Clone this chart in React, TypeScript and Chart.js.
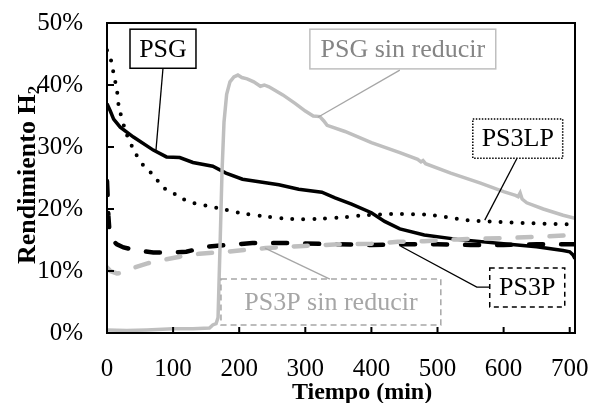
import React, { useEffect, useRef } from "react";
import { Chart, registerables } from "chart.js";
Chart.register(...registerables);

// ---- data ----
const psgT = [0, 5, 10, 20, 40, 70, 90, 110, 130, 160, 180, 205, 230, 260, 290, 325, 345, 370, 400, 420, 443, 480, 530, 600, 650, 690, 700, 705, 708];
const psgV = [37, 35.8, 34.5, 33.2, 31.6, 29.5, 28.4, 28.3, 27.5, 26.9, 25.8, 24.8, 24.4, 23.9, 23.2, 22.7, 21.8, 20.8, 19.4, 18.0, 16.8, 15.8, 15.1, 14.4, 13.9, 13.3, 13.1, 12.6, 12.0];

const ps3lpT = [0, 6, 9, 12, 15, 18, 29, 42, 56, 70, 85, 100, 115, 130, 166, 200, 240, 280, 320, 360, 393, 443, 493, 544, 594, 644, 708];
const ps3lpV = [45.6, 44, 42.4, 40.8, 39.2, 36.5, 32.3, 29.2, 26.9, 25.5, 23.5, 22.6, 21.6, 21.0, 20.2, 19.4, 18.8, 18.4, 18.4, 18.7, 19.0, 19.2, 19.0, 18.2, 17.9, 17.7, 17.5];

const ps3pT = [0, 1, 2, 4, 8, 15, 25, 45, 70, 100, 120, 150, 180, 220, 280, 350, 400, 450, 500, 550, 600, 650, 708];
const ps3pV = [24.5, 22, 19, 16, 15, 14.3, 13.8, 13.3, 13.0, 13.0, 13.1, 13.9, 14.2, 14.5, 14.5, 14.3, 14.2, 14.3, 14.3, 14.2, 14.2, 14.3, 14.3];

const psgSrT = [0, 30, 60, 100, 130, 155, 160, 165, 168, 171, 174, 177, 181, 186, 192, 198, 204, 212, 222, 232, 238, 245, 266, 285, 300, 312, 322, 328, 333, 360, 400, 443, 470, 475, 478, 482, 520, 564, 600, 618, 622, 625, 628, 635, 660, 690, 708];
const psgSrV = [0.5, 0.4, 0.5, 0.7, 0.7, 0.8, 1.3, 1.5, 2.5, 14, 26, 34, 38.5, 40.5, 41.3, 41.6, 41.2, 41.0, 40.5, 39.8, 40.0, 39.7, 38.4, 37.0, 35.8, 35.0, 34.9, 34.2, 33.5, 32.5, 30.7, 29.1, 28.0, 27.6, 27.8, 27.3, 25.8, 24.2, 22.8, 22.2, 22.0, 22.6, 21.6, 21.0, 20.0, 19.0, 18.5];

const ps3pSrT = [0, 5, 15, 28, 40, 60, 85, 110, 140, 170, 200, 240, 290, 350, 400, 440, 480, 530, 600, 650, 708];
const ps3pSrV = [10.6, 10.0, 9.6, 9.8, 10.5, 11.2, 11.8, 12.3, 12.8, 13.0, 13.3, 13.7, 14.0, 14.3, 14.4, 14.7, 14.8, 15.1, 15.3, 15.5, 15.8];

const xTicks = [0, 100, 200, 300, 400, 500, 600, 700];
const yTicks = [0, 10, 20, 30, 40, 50];
const xTitle = "Tiempo (min)";
const yTitle = "Rendimiento H";
const yTitleSub = "2";

// annotation labels in data coordinates: box [t1, t2, vTop, vBottom], leader polyline
const labels = [
  { text: "PSG", box: [34.8, 134.6, 49.0, 42.7], leader: [[84.7, 42.7], [74.1, 29.5]], textColor: "#000000", border: "#000000", lineColor: "#000000", dash: [] as number[] },
  { text: "PSG sin reducir", box: [306.9, 588.1, 49.0, 42.6], leader: [[443, 42.4], [319, 34.8]], textColor: "#858585", border: "#BFBFBF", lineColor: "#A6A6A6", dash: [] as number[] },
  { text: "PS3LP", box: [553.4, 689.4, 34.5, 28.2], leader: [[619.9, 28.1], [571.5, 18.2]], textColor: "#000000", border: "#000000", lineColor: "#000000", dash: [1.5, 1.5] },
  { text: "PS3P", box: [579, 692.5, 10.5, 4.2], leader: [[579, 7.4], [559.4, 7.4], [444.5, 14.0]], textColor: "#000000", border: "#000000", lineColor: "#000000", dash: [5, 4] },
  { text: "PS3P sin reducir", box: [172.4, 505, 8.7, 1.3], leader: [[337.2, 8.7], [238.9, 13.7]], textColor: "#A6A6A6", border: "#A6A6A6", lineColor: "#A6A6A6", dash: [6, 4] },
];

const FONT = '"Liberation Serif", "Times New Roman", serif';

function pts(t: number[], v: number[]) {
  return t.map((x, i) => ({ x, y: v[i] }));
}

const overlay = {
  id: "overlay",
  afterDatasetsDraw(chart: any) {
    const { ctx, chartArea: a, scales } = chart;
    const xs = scales.x, ys = scales.y;
    ctx.save();
    // annotations
    labels.forEach((l) => {
      const x1 = xs.getPixelForValue(l.box[0]);
      const x2 = xs.getPixelForValue(l.box[1]);
      const y1 = ys.getPixelForValue(l.box[2]);
      const y2 = ys.getPixelForValue(l.box[3]);
      ctx.fillStyle = "#ffffff";
      ctx.fillRect(x1, y1, x2 - x1, y2 - y1);
      ctx.setLineDash(l.dash);
      ctx.strokeStyle = l.border;
      ctx.lineWidth = 1.5;
      ctx.strokeRect(x1, y1, x2 - x1, y2 - y1);
      ctx.setLineDash([]);
      ctx.strokeStyle = l.lineColor;
      ctx.lineWidth = 1.3;
      ctx.beginPath();
      l.leader.forEach((p, i) => {
        const px = xs.getPixelForValue(p[0]);
        const py = ys.getPixelForValue(p[1]);
        if (i === 0) ctx.moveTo(px, py);
        else ctx.lineTo(px, py);
      });
      ctx.stroke();
      ctx.fillStyle = l.textColor;
      ctx.font = `26px ${FONT}`;
      ctx.textAlign = "center";
      ctx.textBaseline = "middle";
      ctx.fillText(l.text, (x1 + x2) / 2, (y1 + y2) / 2 + 1);
    });
    // frame
    ctx.strokeStyle = "#000";
    ctx.lineWidth = 2;
    ctx.strokeRect(a.left, a.top, a.right - a.left, a.bottom - a.top);
    ctx.beginPath();
    yTicks.forEach((v) => {
      const py = ys.getPixelForValue(v);
      ctx.moveTo(a.left, py);
      ctx.lineTo(a.left + 7, py);
    });
    xTicks.forEach((v) => {
      const px = xs.getPixelForValue(v);
      ctx.moveTo(px, a.bottom);
      ctx.lineTo(px, a.bottom - 6);
    });
    ctx.stroke();
    // x title
    ctx.fillStyle = "#000";
    ctx.font = `bold 24px ${FONT}`;
    ctx.textAlign = "center";
    ctx.textBaseline = "alphabetic";
    ctx.fillText(xTitle, a.left + (a.right - a.left) * 0.545, a.bottom + 66);
    // y title
    ctx.save();
    const cy = a.top + (a.bottom - a.top) * 0.49;
    ctx.translate(a.left - 72, cy);
    ctx.rotate(-Math.PI / 2);
    ctx.font = `bold 26px ${FONT}`;
    const w1 = ctx.measureText(yTitle).width;
    ctx.font = `bold 17px ${FONT}`;
    const w2 = ctx.measureText(yTitleSub).width;
    const start = -(w1 + w2) / 2;
    ctx.textAlign = "left";
    ctx.font = `bold 26px ${FONT}`;
    ctx.fillText(yTitle, start, 0);
    ctx.font = `bold 17px ${FONT}`;
    ctx.fillText(yTitleSub, start + w1, 4);
    ctx.restore();
    ctx.restore();
  },
};

export default function App() {
  const ref = useRef<HTMLCanvasElement>(null);
  useEffect(() => {
    if (!ref.current) return;
    const chart = new Chart(ref.current, {
      type: "line",
      data: {
        datasets: [
          { label: "PSG sin reducir", data: pts(psgSrT, psgSrV), borderColor: "#BFBFBF", borderWidth: 3.5, pointRadius: 0, tension: 0 },
          { label: "PS3P sin reducir", data: pts(ps3pSrT, ps3pSrV), borderColor: "#BFBFBF", borderWidth: 4.5, borderDash: [14, 18], borderCapStyle: "round", pointRadius: 0, tension: 0 },
          { label: "PS3LP", data: pts(ps3lpT, ps3lpV), borderColor: "#000000", borderWidth: 4, borderDash: [0, 11], borderCapStyle: "round", pointRadius: 0, tension: 0.3 },
          { label: "PS3P", data: pts(ps3pT, ps3pV), borderColor: "#000000", borderWidth: 4.5, borderDash: [14, 18], borderCapStyle: "round", pointRadius: 0, tension: 0 },
          { label: "PSG", data: pts(psgT, psgV), borderColor: "#000000", borderWidth: 3.5, pointRadius: 0, tension: 0 },
        ] as any,
      },
      options: {
        animation: false,
        responsive: true,
        maintainAspectRatio: false,
        layout: { padding: { left: 0, top: 23, right: 16, bottom: 0 } },
        plugins: { legend: { display: false }, tooltip: { enabled: false } },
        scales: {
          x: {
            type: "linear",
            min: 0,
            max: 708,
            grid: { display: false, drawTicks: false },
            border: { display: false },
            afterBuildTicks: (s: any) => { s.ticks = xTicks.map((v) => ({ value: v })); },
            afterFit: (s: any) => { s.height = 70; s.paddingLeft = 0; s.paddingRight = 0; },
            ticks: { color: "#000", font: { family: FONT, size: 25 }, padding: 21, maxRotation: 0 },
          },
          y: {
            min: 0,
            max: 50,
            grid: { display: false, drawTicks: false },
            border: { display: false },
            afterBuildTicks: (s: any) => { s.ticks = yTicks.map((v) => ({ value: v })); },
            afterFit: (s: any) => { s.width = 107; s.paddingTop = 0; s.paddingBottom = 0; },
            ticks: { color: "#000", font: { family: FONT, size: 25 }, padding: 24, callback: (v: any) => v + "%" },
          },
        },
      } as any,
      plugins: [overlay],
    });
    return () => chart.destroy();
  }, []);
  return (
    <div style={{ position: "fixed", left: 0, top: 0, width: 591, height: 403, background: "#fff" }}>
      <canvas ref={ref} />
    </div>
  );
}
